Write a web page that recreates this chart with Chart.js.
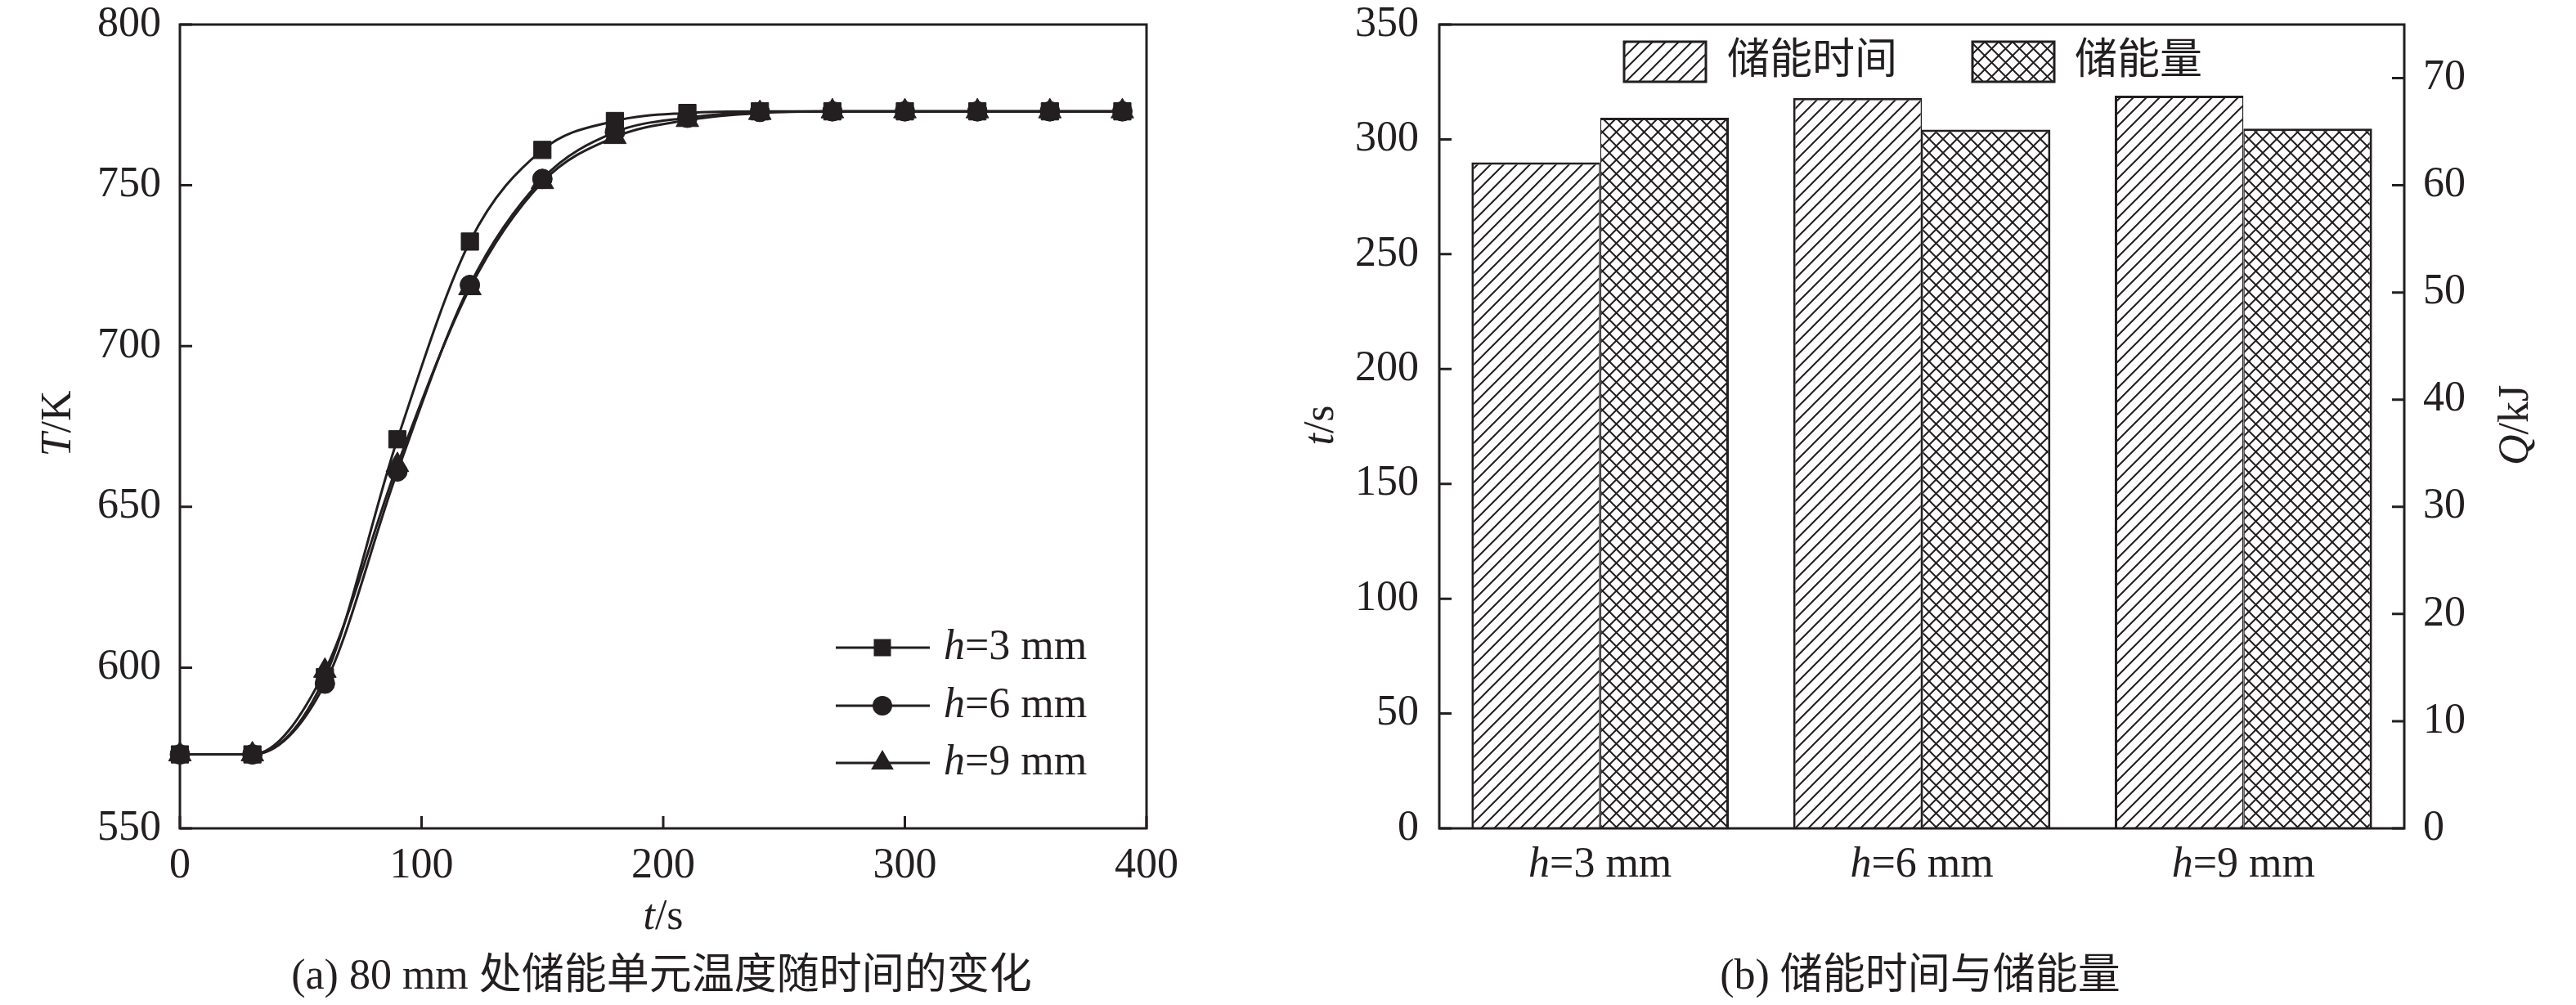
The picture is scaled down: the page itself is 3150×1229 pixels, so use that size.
<!DOCTYPE html>
<html>
<head>
<meta charset="utf-8">
<title>储能单元温度与储能量</title>
<script src="https://cdn.jsdelivr.net/npm/chart.js@4.4.0/dist/chart.umd.min.js"></script>
<style>
  html, body { margin: 0; padding: 0; background: #fff; }
  #wrap { position: relative; width: 3150px; height: 1229px; overflow: hidden; }
  canvas { position: absolute; top: 0; }
  #tempChart { left: 0; }
  #storeChart { left: 1560px; }
  .cap {
    position: absolute; transform: translate(-50%, -50%);
    font: 52px "Liberation Serif", "Noto Sans CJK SC", serif;
    color: #231f20; white-space: nowrap; line-height: 1;
  }
</style>
</head>
<body>
<div id="wrap">
  <canvas id="tempChart" width="1560" height="1229"></canvas>
  <canvas id="storeChart" width="1590" height="1229"></canvas>
  <div class="cap" style="left:809px; top:1192px;">(a) 80 mm 处储能单元温度随时间的变化</div>
  <div class="cap" style="left:2348px; top:1192px;">(b) 储能时间与储能量</div>
</div>
<script>
const INK = "#231f20";
const FONT = '"Liberation Serif", "Noto Sans CJK SC", serif';
const FS = 52;

// ---- (a) temperature at 80 mm ----
const timePoints = [0, 30, 60, 90, 120, 150, 180, 210, 240, 270, 300, 330, 360, 390];
const tempH3 = [573, 573, 597, 671, 732.5, 761, 770, 772.5, 773, 773, 773, 773, 773, 773];
const tempH6 = [573, 573, 595, 661, 719, 752, 766.5, 771, 772.8, 773, 773, 773, 773, 773];
const tempH9 = [573, 573, 599, 663, 718, 751, 765, 770.3, 772.5, 773, 773, 773, 773, 773];
const seriesLabels = ["3 mm", "6 mm", "9 mm"];
const tempTicks = [550, 600, 650, 700, 750, 800];
const timeTicks = [0, 100, 200, 300, 400];

// ---- (b) storage time and stored energy ----
const groups = ["3 mm", "6 mm", "9 mm"];
const storeTime = [290, 318, 319];
const storeEnergy = [66.3, 65.2, 65.3];
const barLabels = ["储能时间", "储能量"];
const tTicks = [0, 50, 100, 150, 200, 250, 300, 350];
const qTicks = [0, 10, 20, 30, 40, 50, 60, 70];

Chart.defaults.font.family = FONT;
Chart.defaults.font.size = FS;
Chart.defaults.color = INK;

// draws "h" in italic followed by the rest in roman
function drawMixed(ctx, parts, x, y, align) {
  let total = 0;
  parts.forEach(p => {
    ctx.font = (p[1] ? "italic " : "") + FS + "px " + FONT;
    total += ctx.measureText(p[0]).width;
  });
  let cx = align === "center" ? x - total / 2 : x;
  ctx.textAlign = "left";
  ctx.textBaseline = "middle";
  parts.forEach(p => {
    ctx.font = (p[1] ? "italic " : "") + FS + "px " + FONT;
    ctx.fillText(p[0], cx, y);
    cx += ctx.measureText(p[0]).width;
  });
}

function drawRotated(ctx, parts, x, y) {
  ctx.save();
  ctx.translate(x, y);
  ctx.rotate(-Math.PI / 2);
  drawMixed(ctx, parts, 0, 0, "center");
  ctx.restore();
}

function hatch(ctx, size, cross) {
  const c = document.createElement("canvas");
  c.width = c.height = size;
  const g = c.getContext("2d");
  g.fillStyle = "#fff";
  g.fillRect(0, 0, size, size);
  g.strokeStyle = INK;
  g.lineWidth = 2;
  g.beginPath();
  g.moveTo(-2, size + 2); g.lineTo(size + 2, -2);
  g.moveTo(-2, 2); g.lineTo(2, -2);
  g.moveTo(size - 2, size + 2); g.lineTo(size + 2, size - 2);
  if (cross) {
    g.moveTo(-2, -2); g.lineTo(size + 2, size + 2);
    g.moveTo(size - 2, -2); g.lineTo(size + 2, 2);
    g.moveTo(-2, size - 2); g.lineTo(2, size + 2);
  }
  g.stroke();
  return ctx.createPattern(c, "repeat");
}

// frame round the plot area and ticks pointing inwards
const framePlugin = {
  id: "frame",
  afterDraw(chart, args, opts) {
    const { ctx, chartArea: a } = chart;
    ctx.save();
    ctx.strokeStyle = INK;
    ctx.lineWidth = 3;
    ctx.beginPath();
    (opts.inTicks || []).forEach(id => {
      const s = chart.scales[id];
      s.ticks.forEach(t => {
        const p = s.getPixelForValue(t.value);
        if (s.axis === "x") { ctx.moveTo(p, a.bottom); ctx.lineTo(p, a.bottom - 15); }
        else if (s.position === "left") { ctx.moveTo(a.left, p); ctx.lineTo(a.left + 15, p); }
        else { ctx.moveTo(a.right, p); ctx.lineTo(a.right - 15, p); }
      });
    });
    ctx.stroke();
    ctx.lineJoin = "miter";
    ctx.strokeRect(a.left, a.top, a.right - a.left, a.bottom - a.top);
    ctx.restore();
  }
};

function setTicks(arr) {
  return s => { s.ticks = arr.map(v => ({ value: v })); };
}

// fixed axis sizes, and no extra room asked for the end labels
function fixWidth(w) {
  return s => { s.width = w; s.paddingTop = 0; s.paddingBottom = 0; };
}
function fixHeight(h) {
  return s => { s.height = h; s.paddingLeft = 0; s.paddingRight = 0; };
}

const noGrid = { display: false, drawTicks: false };

// ==================== (a) LINE CHART ====================
const styles = [
  { pointStyle: "rect", pointRadius: 15, order: 3 },
  { pointStyle: "circle", pointRadius: 12, order: 2 },
  { pointStyle: "triangle", pointRadius: 16, order: 1 }
];
const tempSeries = [tempH3, tempH6, tempH9];

const tempLegend = {
  id: "tempLegend",
  afterDraw(chart) {
    const ctx = chart.ctx;
    const rows = [792, 863, 933];
    ctx.save();
    ctx.fillStyle = INK;
    ctx.strokeStyle = INK;
    rows.forEach((y, i) => {
      ctx.lineWidth = 3;
      ctx.beginPath();
      ctx.moveTo(1022, y); ctx.lineTo(1137, y);
      ctx.stroke();
      const cx = 1079;
      ctx.beginPath();
      if (i === 0) {
        ctx.rect(cx - 10.5, y - 10.5, 21, 21);
      } else if (i === 1) {
        ctx.arc(cx, y, 12, 0, Math.PI * 2);
      } else {
        const r = 16;
        for (let k = 0; k < 3; k++) {
          const ang = k * 2 * Math.PI / 3;
          const px = cx + Math.sin(ang) * r, py = y - Math.cos(ang) * r;
          k === 0 ? ctx.moveTo(px, py) : ctx.lineTo(px, py);
        }
        ctx.closePath();
      }
      ctx.fill();
      drawMixed(ctx, [["h", true], ["=" + seriesLabels[i], false]], 1154, y, "left");
    });
    // axis titles
    drawRotated(ctx, [["T", true], ["/K", false]], 72, 518);
    drawMixed(ctx, [["t", true], ["/s", false]], 811, 1122, "center");
    ctx.restore();
  }
};

new Chart(document.getElementById("tempChart"), {
  type: "line",
  data: {
    datasets: tempSeries.map((arr, i) => ({
      label: "h=" + seriesLabels[i],
      data: timePoints.map((t, j) => ({ x: t, y: arr[j] })),
      borderColor: INK,
      borderWidth: 3,
      pointBackgroundColor: INK,
      pointBorderColor: INK,
      pointBorderWidth: 1,
      cubicInterpolationMode: "monotone",
      clip: false,
      ...styles[i]
    }))
  },
  options: {
    responsive: false,
    animation: false,
    devicePixelRatio: 1,
    layout: { padding: { top: 30, right: 158, left: 0, bottom: 0 } },
    plugins: {
      legend: { display: false },
      tooltip: { enabled: false },
      frame: { inTicks: ["x", "y"] }
    },
    scales: {
      x: {
        type: "linear", min: 0, max: 400,
        afterBuildTicks: setTicks(timeTicks),
        afterFit: fixHeight(216),
        grid: noGrid, border: { display: false },
        ticks: { padding: 20, font: { size: FS, lineHeight: 1 }, color: INK, maxRotation: 0 }
      },
      y: {
        min: 550, max: 800,
        afterBuildTicks: setTicks(tempTicks),
        afterFit: fixWidth(220),
        grid: noGrid, border: { display: false },
        ticks: { padding: 23, font: { size: FS, lineHeight: 1 }, color: INK }
      }
    }
  },
  plugins: [framePlugin, tempLegend]
});

// ==================== (b) BAR CHART ====================
const barCanvas = document.getElementById("storeChart");
const bctx = barCanvas.getContext("2d");
const diagFill = hatch(bctx, 16, false);
const crossFill = hatch(bctx, 17, true);

const storeDecor = {
  id: "storeDecor",
  afterDraw(chart) {
    const ctx = chart.ctx;
    ctx.save();
    ctx.fillStyle = INK;
    ctx.strokeStyle = INK;
    // category labels
    const xs = chart.scales.x;
    groups.forEach((g, i) => {
      drawMixed(ctx, [["h", true], ["=" + g, false]], xs.getPixelForValue(i), 1058, "center");
    });
    // legend
    const boxes = [[426, diagFill, 552], [852, crossFill, 977]];
    boxes.forEach((b, i) => {
      ctx.fillStyle = b[1];
      ctx.fillRect(b[0], 51, 100, 49);
      ctx.lineWidth = 3;
      ctx.strokeRect(b[0], 51, 100, 49);
      ctx.fillStyle = INK;
      drawMixed(ctx, [[barLabels[i], false]], b[2], 76, "left");
    });
    // axis titles
    drawRotated(ctx, [["t", true], ["/s", false]], 56, 520);
    drawRotated(ctx, [["Q", true], ["/kJ", false]], 1517, 520);
    ctx.restore();
  }
};

new Chart(barCanvas, {
  type: "bar",
  data: {
    labels: groups,
    datasets: [
      {
        label: barLabels[0], data: storeTime, yAxisID: "y",
        backgroundColor: diagFill, borderColor: INK,
        borderWidth: { left: 3, top: 3, right: 1.5, bottom: 0 },
        borderSkipped: false,
        categoryPercentage: 0.8, barPercentage: 1.0
      },
      {
        label: barLabels[1], data: storeEnergy, yAxisID: "y1",
        backgroundColor: crossFill, borderColor: INK,
        borderWidth: { left: 1.5, top: 3, right: 3, bottom: 0 },
        borderSkipped: false,
        categoryPercentage: 0.8, barPercentage: 1.0
      }
    ]
  },
  options: {
    responsive: false,
    animation: false,
    devicePixelRatio: 1,
    layout: { padding: { top: 30, right: 0, left: 0, bottom: 0 } },
    plugins: {
      legend: { display: false },
      tooltip: { enabled: false },
      frame: { inTicks: ["y", "y1"] }
    },
    scales: {
      x: {
        afterFit: fixHeight(216),
        grid: noGrid, border: { display: false },
        ticks: { display: false }
      },
      y: {
        position: "left", min: 0, max: 350,
        afterBuildTicks: setTicks(tTicks),
        afterFit: fixWidth(200),
        grid: noGrid, border: { display: false },
        ticks: { padding: 25, font: { size: FS, lineHeight: 1 }, color: INK }
      },
      y1: {
        position: "right", min: 0, max: 75,
        afterBuildTicks: setTicks(qTicks),
        afterFit: fixWidth(210),
        grid: noGrid, border: { display: false },
        ticks: { padding: 23, font: { size: FS, lineHeight: 1 }, color: INK }
      }
    }
  },
  plugins: [framePlugin, storeDecor]
});
</script>
</body>
</html>
